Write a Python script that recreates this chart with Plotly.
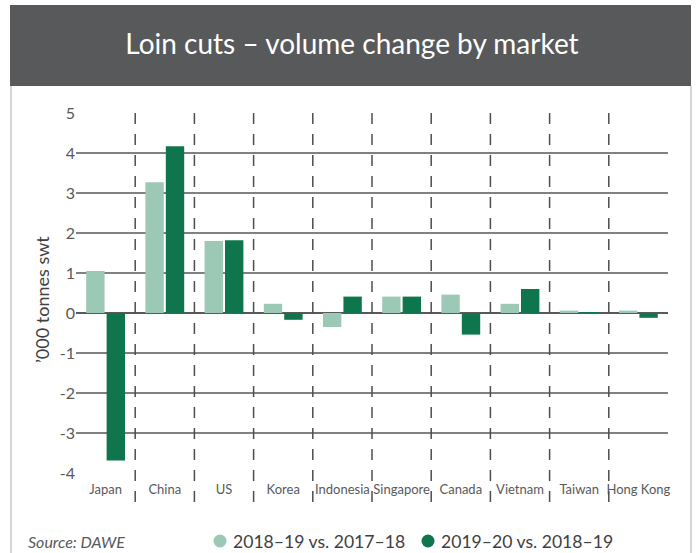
import plotly.graph_objects as go

markets = ["Japan", "China", "US", "Korea", "Indonesia", "Singapore", "Canada", "Vietnam", "Taiwan", "Hong Kong"]
change_1819 = [1.05, 3.27, 1.80, 0.23, -0.35, 0.41, 0.46, 0.23, 0.06, 0.06]
change_1920 = [-3.69, 4.17, 1.82, -0.17, 0.41, 0.41, -0.54, 0.60, 0.01, -0.12]
series_names = ["2018–19 vs. 2017–18", "2019–20 vs. 2018–19"]
y_ticks = [-4, -3, -2, -1, 0, 1, 2, 3, 4, 5]
y_tick_labels = ["-4", "-3", "-2", "-1", "0", "1", "2", "3", "4", "5"]

LIGHT = "#9cc9b5"
DARK = "#0e754c"
GREY = "#58595b"
TEXT = "#3f4042"
FONT = "Lato"

W, H = 696, 553
L, R, T, B = 76, 28, 113, 80
pw, ph = W - L - R, H - T - B

def px_x(p):
    return (p - L) / pw

def px_y(p):
    return (H - B - p) / ph

fig = go.Figure()
for name, vals, col in zip(series_names, [change_1819, change_1920], [LIGHT, DARK]):
    fig.add_trace(go.Bar(x=markets, y=vals, name=name,
                         marker=dict(color=col, line=dict(width=0)), showlegend=False))

shapes = []
# title bar
shapes.append(dict(type="rect", xref="paper", yref="paper", x0=px_x(10), x1=px_x(691),
                   y0=px_y(86), y1=px_y(5), fillcolor=GREY, line=dict(width=0), layer="below"))
# panel borders
for xp in (11, 691):
    shapes.append(dict(type="line", xref="paper", yref="paper", x0=px_x(xp), x1=px_x(xp),
                       y0=px_y(86), y1=px_y(553), line=dict(color="#c7c8ca", width=1.5)))
# category separators
for i in range(len(markets) - 1):
    shapes.append(dict(type="line", xref="x", yref="paper", x0=i + 0.5, x1=i + 0.5,
                       y0=1, y1=px_y(507), line=dict(color="#4d4d4f", width=1.5, dash="11px,10px"),
                       layer="above"))

annotations = [
    dict(text="<i>Source: DAWE</i>", xref="paper", yref="paper",
         x=px_x(26), y=px_y(541), xanchor="left", yanchor="middle",
         showarrow=False, font=dict(size=16, color=GREY)),
    dict(text="’000 tonnes swt", xref="paper", yref="paper", textangle=-90,
         x=px_x(42), y=px_y(300), xanchor="center", yanchor="middle",
         showarrow=False, font=dict(size=18, color=TEXT)),
]
# legend (circle markers + labels)
legend_circle_x = [220, 428]
legend_text_x = [231, 439]
for name, col, cx, tx in zip(series_names, [LIGHT, DARK], legend_circle_x, legend_text_x):
    shapes.append(dict(type="circle", xref="paper", yref="paper",
                       xsizemode="pixel", ysizemode="pixel",
                       xanchor=px_x(cx), yanchor=px_y(541),
                       x0=-6.5, x1=6.5, y0=-6.5, y1=6.5,
                       fillcolor=col, line=dict(width=0)))
    annotations.append(dict(text=name, xref="paper", yref="paper",
                            x=px_x(tx), y=px_y(541), xanchor="left", yanchor="middle",
                            showarrow=False, font=dict(size=17.6, color=TEXT)))

fig.update_layout(
    width=W, height=H,
    margin=dict(l=L, r=R, t=T, b=B, autoexpand=False),
    paper_bgcolor="white", plot_bgcolor="white",
    barmode="group", bargap=0.31, bargroupgap=0.1,
    font=dict(family=FONT, color=GREY),
    showlegend=False,
    title=dict(text="Loin cuts – volume change by market", x=352 / W, xanchor="center",
               y=1 - 44 / H, yanchor="middle", font=dict(family=FONT, size=28, color="white")),
    shapes=shapes,
    annotations=annotations,
    xaxis=dict(showgrid=False, showline=False, ticks="", tickfont=dict(size=13, color=GREY),
               range=[-0.5, len(markets) - 0.5], automargin=False, ticklabelstandoff=7),
    yaxis=dict(range=[-4, 5], tickvals=y_ticks, ticktext=y_tick_labels, automargin=False,
               showgrid=True, gridcolor="#808184", gridwidth=1.5,
               zeroline=True, zerolinecolor="#58595b", zerolinewidth=1.5,
               showline=False, ticks="", tickfont=dict(size=16, color=GREY)),
)

fig.write_html("out.html", config={"displayModeBar": False},
               post_script="document.body.style.margin='0';document.body.style.overflow='hidden';")
